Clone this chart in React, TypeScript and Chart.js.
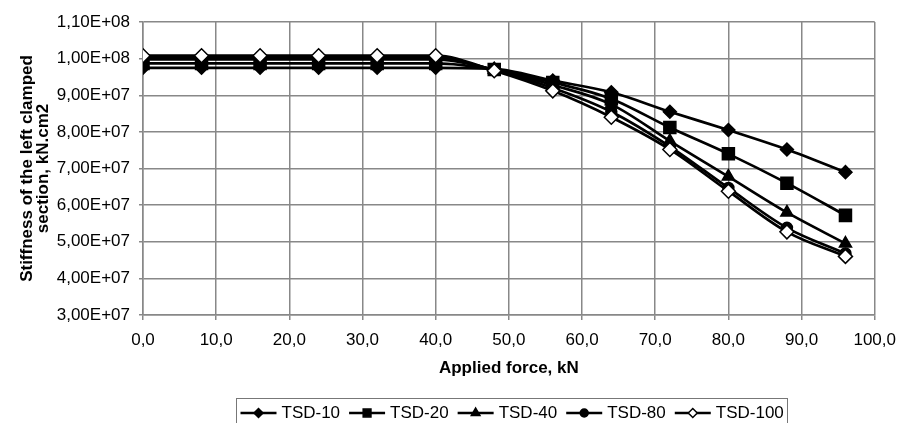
import React, { useEffect, useRef } from 'react';
import { Chart, registerables } from 'chart.js';
import { drawPoint } from 'chart.js/helpers';

Chart.register(...registerables);

const forces = [0, 8, 16, 24, 32, 40, 48, 56, 64, 72, 80, 88, 96];
const seriesNames = ['TSD-10', 'TSD-20', 'TSD-40', 'TSD-80', 'TSD-100'];
const tsd10 = [9.75e7, 9.75e7, 9.75e7, 9.75e7, 9.75e7, 9.75e7, 9.72e7, 9.4e7, 9.08e7, 8.55e7, 8.05e7, 7.52e7, 6.9e7];
const tsd20 = [9.87e7, 9.87e7, 9.87e7, 9.87e7, 9.87e7, 9.87e7, 9.7e7, 9.35e7, 8.9e7, 8.12e7, 7.4e7, 6.6e7, 5.72e7];
const tsd40 = [9.98e7, 9.98e7, 9.98e7, 9.98e7, 9.98e7, 9.98e7, 9.7e7, 9.28e7, 8.75e7, 7.75e7, 6.78e7, 5.8e7, 4.95e7];
const tsd80 = [1.003e8, 1.003e8, 1.003e8, 1.003e8, 1.003e8, 1.003e8, 9.68e7, 9.2e7, 8.55e7, 7.6e7, 6.47e7, 5.38e7, 4.68e7];
const tsd100 = [1.008e8, 1.008e8, 1.008e8, 1.008e8, 1.008e8, 1.008e8, 9.67e7, 9.12e7, 8.4e7, 7.52e7, 6.38e7, 5.27e7, 4.6e7];
const yMin = 3e7;
const yMax = 1.1e8;
const yStep = 1e7;
const xMin = 0;
const xMax = 100;
const xStep = 10;
const xTitle = 'Applied force, kN';
const yTitle = ['Stiffness of the left clamped', 'section, kN.cm2'];

const allSeries = [tsd10, tsd20, tsd40, tsd80, tsd100];
const styles = [
  { pointStyle: 'rectRot', radius: 6.5, fill: '#000', lr: 4.5 },
  { pointStyle: 'rect', radius: 8.5, fill: '#000', lr: 5.5 },
  { pointStyle: 'triangle', radius: 7, fill: '#000', lr: 5 },
  { pointStyle: 'circle', radius: 5.5, fill: '#000', lr: 4 },
  { pointStyle: 'rectRot', radius: 7, fill: '#fff', lr: 4.5 },
];

const FONT = '"Liberation Sans", Arial, sans-serif';
const GRID = '#888888';

function fmtY(v: number): string {
  const s = Number(v).toExponential(2);
  const [m, e] = s.split('e');
  const sign = e[0] === '-' ? '-' : '+';
  const digits = e.replace(/[+-]/, '').padStart(2, '0');
  return m.replace('.', ',') + 'E' + sign + digits;
}

const legendPlugin = {
  id: 'boxLegend',
  afterDraw(chart: any) {
    const ctx = chart.ctx as CanvasRenderingContext2D;
    ctx.save();
    ctx.font = '17px ' + FONT;
    const lineLen = 36, gapText = 5, gapItem = 9, padX = 4;
    const widths = seriesNames.map((n) => ctx.measureText(n).width);
    const total = padX * 2 + seriesNames.length * (lineLen + gapText) + widths.reduce((a, b) => a + b, 0) + gapItem * (seriesNames.length - 1);
    const left = Math.round(512 - total / 2) + 0.5;
    const top = 398.5;
    ctx.strokeStyle = '#777';
    ctx.lineWidth = 1;
    ctx.strokeRect(left, top, Math.round(total), 40);
    let x = left + padX;
    const y = 413;
    seriesNames.forEach((n, i) => {
      ctx.beginPath();
      ctx.strokeStyle = '#000';
      ctx.lineWidth = 2.5;
      ctx.moveTo(x, y);
      ctx.lineTo(x + lineLen, y);
      ctx.stroke();
      const st = styles[i];
      ctx.fillStyle = st.fill;
      ctx.strokeStyle = '#000';
      ctx.lineWidth = 1.5;
      drawPoint(ctx, { pointStyle: st.pointStyle as any, radius: st.lr, rotation: 0, borderWidth: 1.5 }, x + lineLen / 2, y);
      ctx.fillStyle = '#000';
      ctx.textBaseline = 'middle';
      ctx.textAlign = 'left';
      ctx.fillText(n, x + lineLen + gapText, y);
      x += lineLen + gapText + widths[i] + gapItem;
    });
    ctx.restore();
  },
};

export default function App() {
  const ref = useRef<HTMLCanvasElement | null>(null);
  useEffect(() => {
    document.body.style.margin = '0';
    const canvas = ref.current;
    if (!canvas) return;
    const datasets = allSeries.map((s, i) => ({
      label: seriesNames[i],
      data: s.map((v, j) => ({ x: forces[j], y: v })),
      borderColor: '#000',
      borderWidth: 2.7,
      backgroundColor: styles[i].fill,
      pointBackgroundColor: styles[i].fill,
      pointBorderColor: '#000',
      pointBorderWidth: 1.5,
      pointStyle: styles[i].pointStyle,
      pointRadius: styles[i].radius,
      cubicInterpolationMode: 'monotone' as const,
      order: 5 - i,
      fill: false,
    }));
    const chart = new Chart(canvas, {
      type: 'line',
      data: { datasets },
      plugins: [legendPlugin],
      options: {
        animation: false,
        responsive: false,
        devicePixelRatio: 1,
        layout: { padding: { top: 22, right: 26, bottom: 44, left: 0 } },
        plugins: { legend: { display: false }, tooltip: { enabled: false } },
        scales: {
          x: {
            type: 'linear',
            min: xMin,
            max: xMax,
            afterFit: (s: any) => { s.height = 64; },
            ticks: {
              stepSize: xStep,
              color: '#000',
              padding: 10,
              maxRotation: 0,
              font: { family: FONT, size: 17 },
              callback: (v: any) => Number(v).toFixed(1).replace('.', ','),
            },
            grid: { color: GRID, lineWidth: 1.5, tickLength: 5 },
            border: { color: GRID, width: 1.5 },
            title: {
              display: true,
              text: xTitle,
              color: '#000',
              padding: 0,
              font: { family: FONT, size: 17, weight: 'bold', lineHeight: 1.2 },
            },
          },
          y: {
            type: 'linear',
            min: yMin,
            max: yMax,
            afterFit: (s: any) => { s.width = 143; },
            ticks: {
              stepSize: yStep,
              color: '#000',
              padding: 9,
              font: { family: FONT, size: 17 },
              callback: (v: any) => fmtY(v),
            },
            grid: { color: GRID, lineWidth: 1.5, tickLength: 4 },
            border: { color: GRID, width: 1.5 },
            title: {
              display: true,
              text: yTitle,
              color: '#000',
              padding: { top: 19, bottom: 0 },
              font: { family: FONT, size: 17, weight: 'bold', lineHeight: 0.95 },
            },
          },
        },
      },
    } as any);
    return () => chart.destroy();
  }, []);
  return <canvas ref={ref} width={906} height={423} style={{ display: 'block', width: 906, height: 423 }} />;
}
